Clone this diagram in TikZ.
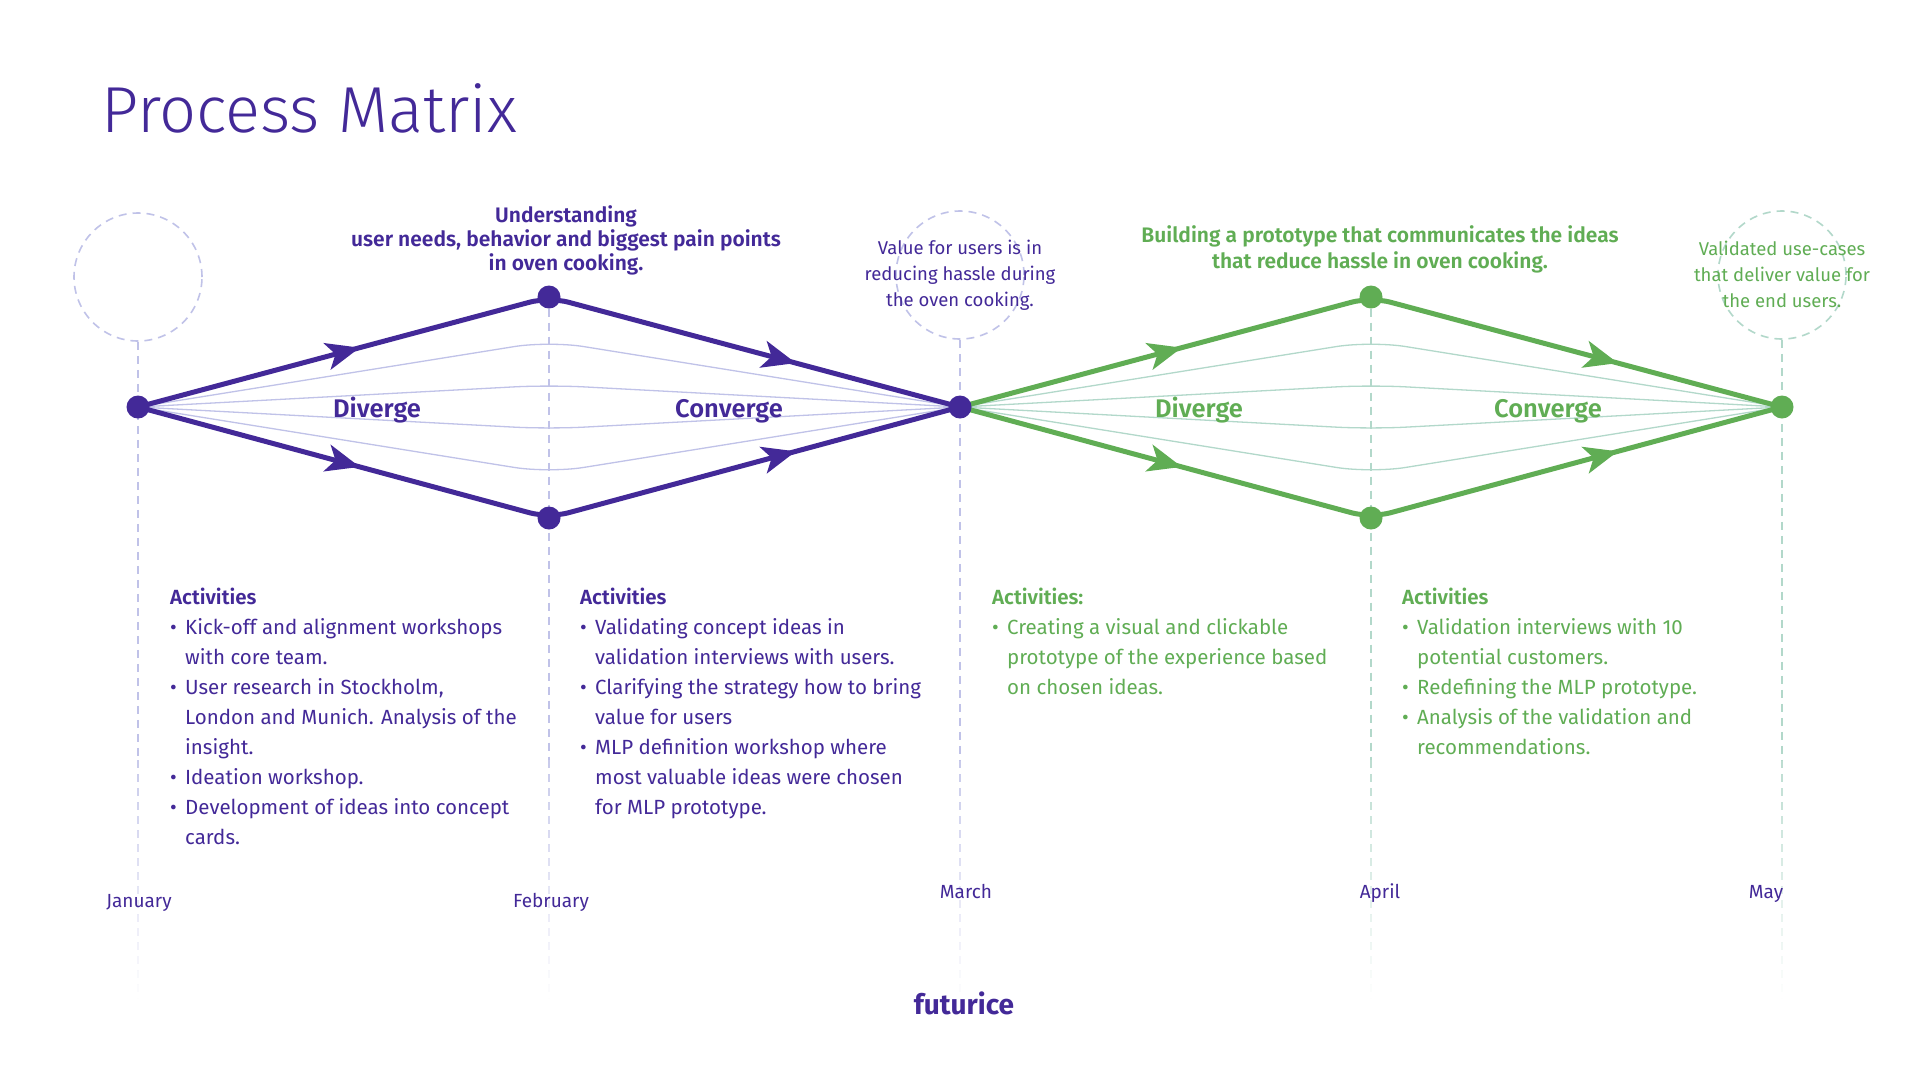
\documentclass[tikz,border=0pt]{standalone}
\usepackage{fontspec}
\setmainfont{Fira Sans}
\newfontfamily\lightfont{Fira Sans Light}
\newfontfamily\semifont{Fira Sans SemiBold}
\usetikzlibrary{arrows.meta,decorations.markings}
\definecolor{fpurple}{RGB}{67,41,152}
\definecolor{fgreen}{RGB}{96,173,84}
\definecolor{flav}{RGB}{192,194,232}
\definecolor{fmint}{RGB}{178,216,202}
\pgfdeclarelayer{bg}
\pgfsetlayers{bg,main}
% bullet line and continued line
\newcommand{\bl}[1]{\makebox[15pt][l]{•}#1}
\newcommand{\cl}[1]{\hspace*{15pt}#1}

\begin{document}
\begin{tikzpicture}[x=1pt,y=1pt,yscale=-1,
  mdot/.style={circle,fill=#1,inner sep=0pt,minimum size=23pt},
  ring/.style={circle,draw=#1,dash pattern=on 8pt off 6pt,line width=1.6pt,minimum size=128pt,inner sep=0pt},
  dashv/.style={draw=#1,dash pattern=on 8pt off 6pt,line width=1.6pt},
  fanp/.style={draw=#1,line width=1.3pt,rounded corners=35pt},
  thickp/.style={draw=#1,line width=5pt,rounded corners=20pt,line join=round,
    postaction={decorate},decoration={markings,
      mark=at position 0.27 with {\arrow{Stealth[length=34pt,width=28pt,inset=9pt,line width=0pt,color=#1]}},
      mark=at position 0.80 with {\arrow{Stealth[length=34pt,width=28pt,inset=9pt,line width=0pt,color=#1]}}}},
  lbl/.style={inner sep=0pt,anchor=base},
  acts/.style={inner sep=0pt,anchor=base west,align=left,text=#1,font=\fontsize{20.5}{30}\selectfont}
]
\useasboundingbox (0,0) rectangle (1920,1080);

% Milestone dots
\node[mdot=fpurple] (jan) at (138,407) {};
\node[mdot=fpurple] (febT) at (549,297) {};
\node[mdot=fpurple] (febB) at (549,518) {};
\node[mdot=fpurple] (mar) at (960,407) {};
\node[mdot=fgreen] (aprT) at (1371,297) {};
\node[mdot=fgreen] (aprB) at (1371,518) {};
\node[mdot=fgreen] (may) at (1782,407) {};
% Dashed circles
\node[ring=flav] (janC) at (138,277) {};
\node[ring=flav] (marC) at (960,275) {};
\node[ring=fmint] (mayC) at (1782,275) {};

\begin{pgfonlayer}{bg}
\fill[white] (0,0) rectangle (1920,1080);
% Month guides
\draw[dashv=flav] (janC.south) -- (138,760);
\draw[dashv=flav] (febT) -- (549,760);
\draw[dashv=flav] (marC.south) -- (960,760);
\draw[dashv=fmint] (aprT) -- (1371,760);
\draw[dashv=fmint] (mayC.south) -- (1782,760);
\foreach \xx/\cc in {138/flav,549/flav,960/flav,1371/fmint,1782/fmint}{
  \foreach \k [evaluate=\k as \op using 0.85-0.05*\k] in {0,...,16}{
    \draw[dashv=\cc,draw opacity=\op] (\xx,760+14*\k) -- ++(0,14);
  }
}
% Thin fan lines
\foreach \i/\yy in {1/341,2/385,3/429,4/473}{
  \coordinate (fp\i) at (549,\yy);
  \coordinate (fg\i) at (1371,\yy);
  \draw[fanp=flav] (jan.center) -- (fp\i) -- (mar.center);
  \draw[fanp=fmint] (mar.center) -- (fg\i) -- (may.center);
}
% Diverge / converge paths
\draw[thickp=fpurple] (jan.center) -- (febT.center) -- (mar.center);
\draw[thickp=fpurple] (jan.center) -- (febB.center) -- (mar.center);
\draw[thickp=fgreen] (mar.center) -- (aprT.center) -- (may.center);
\draw[thickp=fgreen] (mar.center) -- (aprB.center) -- (may.center);
\end{pgfonlayer}

% Title
\node[inner sep=0pt,anchor=base west,text=fpurple,font=\lightfont\fontsize{65}{72}\selectfont] (title) at (101,132) {Process Matrix};

% Text Node (base = last line)
\node[lbl,align=center,text=fpurple,font=\semifont\fontsize{21}{24}\selectfont] (undT) at (566,270) {Understanding\\user needs, behavior and biggest pain points\\in oven cooking.};
% Text Node
\node[lbl,align=center,text=fgreen,font=\semifont\fontsize{21}{26}\selectfont] (bldT) at (1380,268) {Building a prototype that communicates the ideas\\that reduce hassle in oven cooking.};
% Text Node
\node[lbl,align=center,text=fpurple,font=\fontsize{18.5}{26}\selectfont] (valT) at (960,306) {Value for users is in\\reducing hassle during\\the oven cooking.};
% Text Node
\node[lbl,align=center,text=fgreen,font=\fontsize{18.5}{26}\selectfont] (vldT) at (1782,307) {Validated use-cases\\that deliver value for\\the end users.};

% Phase labels
\node[lbl,text=fpurple,font=\semifont\fontsize{25.5}{28}\selectfont] (dvP) at (377,417) {Diverge};
\node[lbl,text=fpurple,font=\semifont\fontsize{25.5}{28}\selectfont] (cvP) at (729,417) {Converge};
\node[lbl,text=fgreen,font=\semifont\fontsize{25.5}{28}\selectfont] (dvG) at (1199,417) {Diverge};
\node[lbl,text=fgreen,font=\semifont\fontsize{25.5}{28}\selectfont] (cvG) at (1548,417) {Converge};

% Activities (base = last line)
\node[acts=fpurple] (actA) at (170,844) {{\semifont Activities}\\
\bl{Kick-off and alignment workshops}\\
\cl{with core team.}\\
\bl{User research in Stockholm,}\\
\cl{London and Munich. Analysis of the}\\
\cl{insight.}\\
\bl{Ideation workshop.}\\
\bl{Development of ideas into concept}\\
\cl{cards.}};
\node[acts=fpurple] (actB) at (580,814) {{\semifont Activities}\\
\bl{Validating concept ideas in}\\
\cl{validation interviews with users.}\\
\bl{Clarifying the strategy how to bring}\\
\cl{value for users}\\
\bl{MLP definition workshop where}\\
\cl{most valuable ideas were chosen}\\
\cl{for MLP prototype.}};
\node[acts=fgreen] (actC) at (992,694) {{\semifont Activities:}\\
\bl{Creating a visual and clickable}\\
\cl{prototype of the experience based}\\
\cl{on chosen ideas.}};
\node[acts=fgreen] (actD) at (1402,754) {{\semifont Activities}\\
\bl{Validation interviews with 10}\\
\cl{potential customers.}\\
\bl{Redefining the MLP prototype.}\\
\bl{Analysis of the validation and}\\
\cl{recommendations.}};

% Months
\node[lbl,text=fpurple,font=\fontsize{19}{22}\selectfont] (mJan) at (139,907) {January};
\node[lbl,text=fpurple,font=\fontsize{19}{22}\selectfont] (mFeb) at (551,907) {February};
\node[lbl,text=fpurple,font=\fontsize{19}{22}\selectfont] (mMar) at (966,898) {March};
\node[lbl,text=fpurple,font=\fontsize{19}{22}\selectfont] (mApr) at (1380,898) {April};
\node[lbl,text=fpurple,font=\fontsize{19}{22}\selectfont] (mMay) at (1766,898) {May};

% Logo
\node[lbl,text=fpurple,font=\bfseries\fontsize{28}{30}\selectfont] (logo) at (964,1014) {futurice};
\end{tikzpicture}
\end{document}
